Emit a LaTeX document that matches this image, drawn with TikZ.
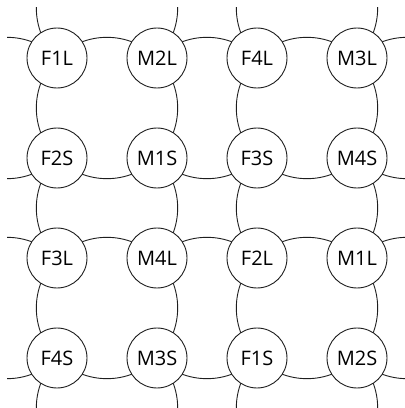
\documentclass[tikz,border=0pt]{standalone}
\usepackage{fontspec}
\setmainfont{Open Sans}
\usetikzlibrary{backgrounds}
\definecolor{ink}{HTML}{1E1E1E}
\begin{document}
\begin{tikzpicture}[x=1pt,y=1pt,
  cell/.style={circle,draw=ink,fill=white,line width=0.9pt,minimum size=60pt,inner sep=0pt,
    font=\fontsize{20}{23}\selectfont},
  link/.style={draw=ink,line width=0.9pt},
  bl/.style={bend left=45},
  br/.style={bend right=45}]
\useasboundingbox (0,0) rectangle (405,408);
% row 0
\node[cell] (F1L) at (57,350) {F1L};
\node[cell] (M2L) at (157,350) {M2L};
\node[cell] (F4L) at (257,350) {F4L};
\node[cell] (M3L) at (357,350) {M3L};
% row 1
\node[cell] (F2S) at (57,250) {F2S};
\node[cell] (M1S) at (157,250) {M1S};
\node[cell] (F3S) at (257,250) {F3S};
\node[cell] (M4S) at (357,250) {M4S};
% row 2
\node[cell] (F3L) at (57,150) {F3L};
\node[cell] (M4L) at (157,150) {M4L};
\node[cell] (F2L) at (257,150) {F2L};
\node[cell] (M1L) at (357,150) {M1L};
% row 3
\node[cell] (F4S) at (57,50) {F4S};
\node[cell] (M3S) at (157,50) {M3S};
\node[cell] (F1S) at (257,50) {F1S};
\node[cell] (M2S) at (357,50) {M2S};
% wrap-around ends
\coordinate (L0) at (-43,350); \coordinate (R0) at (457,350);
\coordinate (L1) at (-43,250); \coordinate (R1) at (457,250);
\coordinate (L2) at (-43,150); \coordinate (R2) at (457,150);
\coordinate (L3) at (-43,50);  \coordinate (R3) at (457,50);
\coordinate (T0) at (57,450);  \coordinate (B0) at (57,-50);
\coordinate (T1) at (157,450); \coordinate (B1) at (157,-50);
\coordinate (T2) at (257,450); \coordinate (B2) at (257,-50);
\coordinate (T3) at (357,450); \coordinate (B3) at (357,-50);
\begin{scope}[on background layer]
\clip (7,0) rectangle (407,400);
% rows
\draw[link] (L0) to[bl] (F1L.center) to[bl] (M2L.center) to[bl] (F4L.center) to[bl] (M3L.center) to[bl] (R0);
\draw[link] (L1) to[br] (F2S.center) to[br] (M1S.center) to[br] (F3S.center) to[br] (M4S.center) to[br] (R1);
\draw[link] (L2) to[bl] (F3L.center) to[bl] (M4L.center) to[bl] (F2L.center) to[bl] (M1L.center) to[bl] (R2);
\draw[link] (L3) to[br] (F4S.center) to[br] (M3S.center) to[br] (F1S.center) to[br] (M2S.center) to[br] (R3);
% columns
\draw[link] (T0) to[br] (F1L.center) to[br] (F2S.center) to[br] (F3L.center) to[br] (F4S.center) to[br] (B0);
\draw[link] (T1) to[bl] (M2L.center) to[bl] (M1S.center) to[bl] (M4L.center) to[bl] (M3S.center) to[bl] (B1);
\draw[link] (T2) to[br] (F4L.center) to[br] (F3S.center) to[br] (F2L.center) to[br] (F1S.center) to[br] (B2);
\draw[link] (T3) to[bl] (M3L.center) to[bl] (M4S.center) to[bl] (M1L.center) to[bl] (M2S.center) to[bl] (B3);
\end{scope}
\end{tikzpicture}
\end{document}
